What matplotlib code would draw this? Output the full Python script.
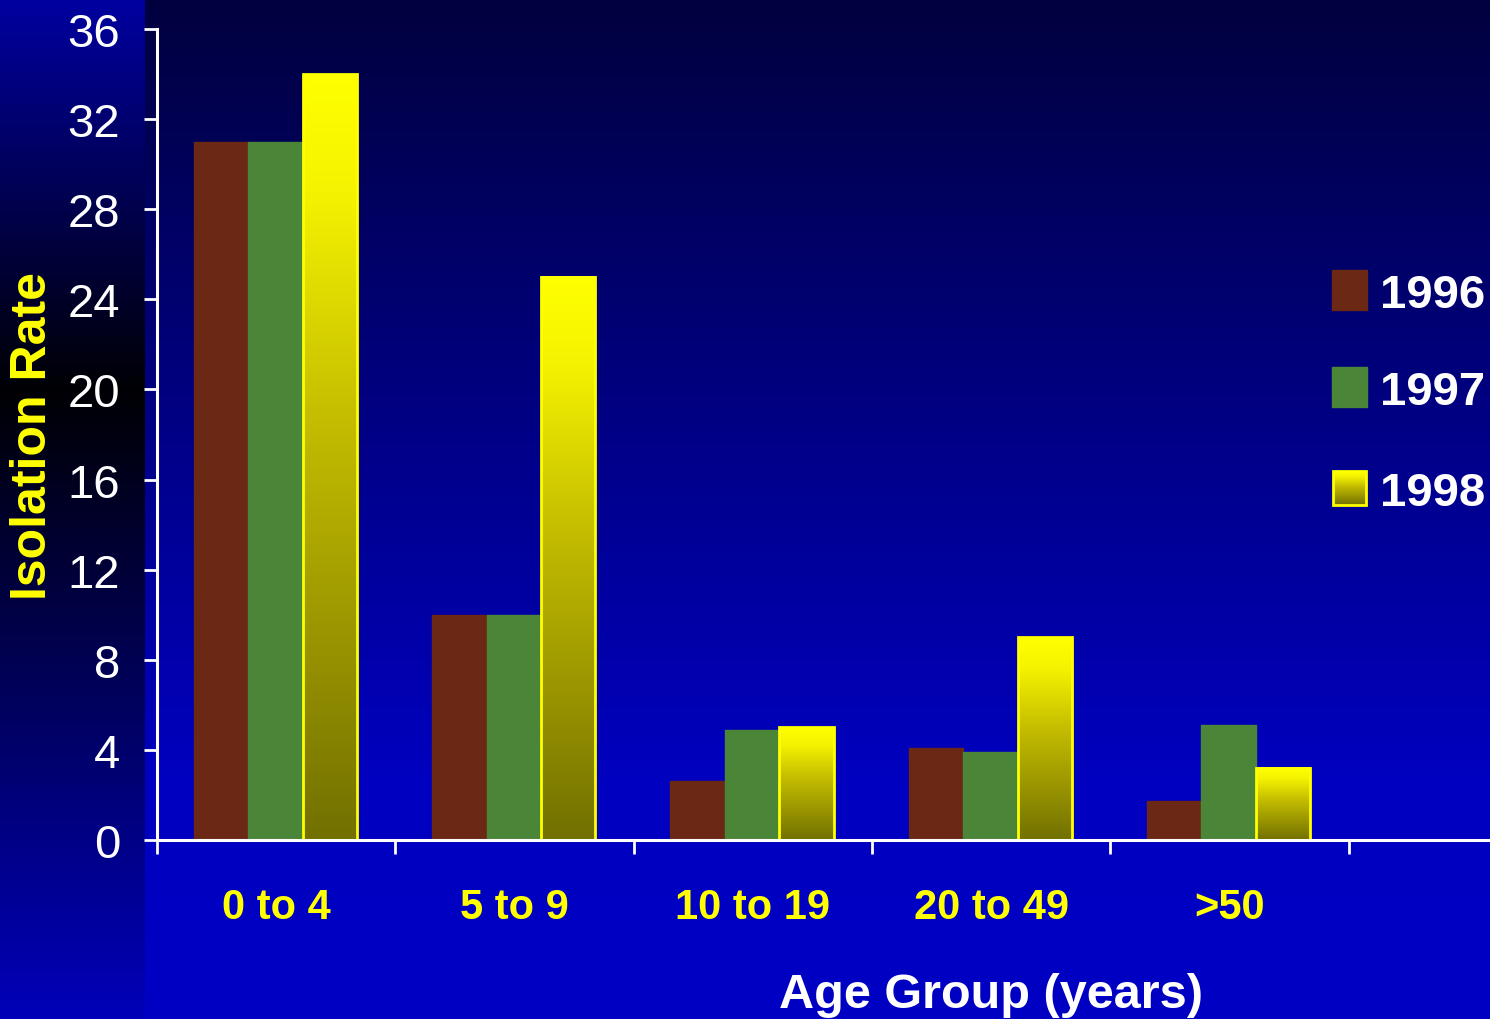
import numpy as np
import matplotlib.pyplot as plt
from matplotlib.colors import LinearSegmentedColormap
from matplotlib.patches import Rectangle

# Isolation rate by age group, three years
groups = ["0 to 4", "5 to 9", "10 to 19", "20 to 49", ">50"]
years = ["1996", "1997", "1998"]
rate_1996 = [31, 10, 2.6, 4.1, 1.75]
rate_1997 = [31, 10, 4.9, 3.9, 5.1]
rate_1998 = [34, 25, 5.0, 9.0, 3.2]
yticks = [0, 4, 8, 12, 16, 20, 24, 28, 32, 36]

brown = "#6b2815"
green = "#4a8538"
yellow = "#ffff00"
gold_cmap = LinearSegmentedColormap.from_list(
    "gold", [(0.0, "#727000"), (0.55, "#c4bd00"), (0.85, "#f6f300"), (1.0, "#ffff00")])

W, H = 1490, 1020
fig = plt.figure(figsize=(W / 100, H / 100), dpi=100)
plt.rcParams["font.family"] = ["Liberation Sans", "DejaVu Sans"]

# background: pixel-coordinate axes filling the figure
bg = fig.add_axes([0, 0, 1, 1], zorder=0)
bg.set_xlim(0, W)
bg.set_ylim(H, 0)
bg.axis("off")
rows = np.arange(H)
main_b = np.interp(rows, [0, 780, H], [62, 192, 196]) / 255
left_b = np.interp(rows, [0, 390, H], [160, 4, 186]) / 255
img = np.zeros((H, W, 3))
img[:, :, 2] = main_b[:, None]
img[:, :145, 2] = left_b[:, None]
bg.imshow(img, extent=[0, W, H, 0], aspect="auto", interpolation="bilinear")

# main chart axes
ax_left, ax_bottom = 157, 179
ax_w, ax_h = W - 157, 811
ax = fig.add_axes([ax_left / W, ax_bottom / H, ax_w / W, ax_h / H], zorder=1)
ax.patch.set_alpha(0)

x = np.arange(len(groups))
bw = 0.228
ax.bar(x - 0.232, rate_1996, bw, color=brown, edgecolor=brown, linewidth=1,
       joinstyle="round", zorder=2)
ax.bar(x - 0.003, rate_1997, bw, color=green, edgecolor=green, linewidth=1,
       joinstyle="round", zorder=2)
gold_bars = ax.bar(x + 0.225, rate_1998, bw, facecolor="none", edgecolor=yellow,
                   linewidth=2, zorder=4)

# vertical gradient inside each 1998 bar
grad = np.linspace(0, 1, 256)[:, None]
for b in gold_bars:
    x0, w, h = b.get_x(), b.get_width(), b.get_height()
    ax.imshow(grad, extent=[x0, x0 + w, 0, h], origin="lower", cmap=gold_cmap,
              aspect="auto", zorder=3)

span = ax_w / 238.3
ax.set_xlim(-0.5, span - 0.5)
ax.set_ylim(0, 36)

for s in ["top", "right"]:
    ax.spines[s].set_visible(False)
for s in ["left", "bottom"]:
    ax.spines[s].set_color("white")
    ax.spines[s].set_linewidth(2.2)
    ax.spines[s].set_zorder(5)

ax.set_yticks(yticks)
ax.set_yticklabels([str(t) for t in yticks])
ax.tick_params(axis="y", colors="white", length=9.5, width=2, pad=17, labelsize=34)

ax.set_xticks(x)
ax.set_xticklabels(groups, fontweight="bold")
ax.set_xticks(np.arange(len(groups) + 1) - 0.5, minor=True)
ax.tick_params(axis="x", which="major", length=0, pad=34, labelsize=30,
               labelcolor=yellow)
ax.tick_params(axis="x", which="minor", length=10, width=2, color="white")

ax.set_ylabel("Isolation Rate", color=yellow, fontsize=36, fontweight="bold",
              va="center")
ax.yaxis.set_label_coords(-0.093, 0.5)
ax.set_xlabel("Age Group (years)", color="white", fontsize=35, fontweight="bold",
              va="baseline")
ax.xaxis.set_label_coords(0.6257, -0.206)

# legend drawn in pixel coordinates
leg_colors = [brown, green, None]
leg_rows = [291, 388, 489]
for name, col, yc in zip(years, leg_colors, leg_rows):
    if col is not None:
        bg.add_patch(Rectangle((1332, yc - 20), 35, 40, facecolor=col, edgecolor=col,
                               linewidth=1, joinstyle="round", zorder=3))
    else:
        bg.imshow(grad, extent=[1333, 1366, yc + 17, yc - 17], origin="lower",
                  cmap=gold_cmap, aspect="auto", zorder=3)
        bg.add_patch(Rectangle((1333, yc - 17), 33, 34, facecolor="none",
                               edgecolor=yellow, linewidth=2, zorder=4))
    bg.text(1380, yc + 5, name, color="white", fontsize=34, fontweight="bold",
            va="center", ha="left", zorder=4)
bg.set_xlim(0, W)
bg.set_ylim(H, 0)

fig.savefig("out.png", dpi=100)
